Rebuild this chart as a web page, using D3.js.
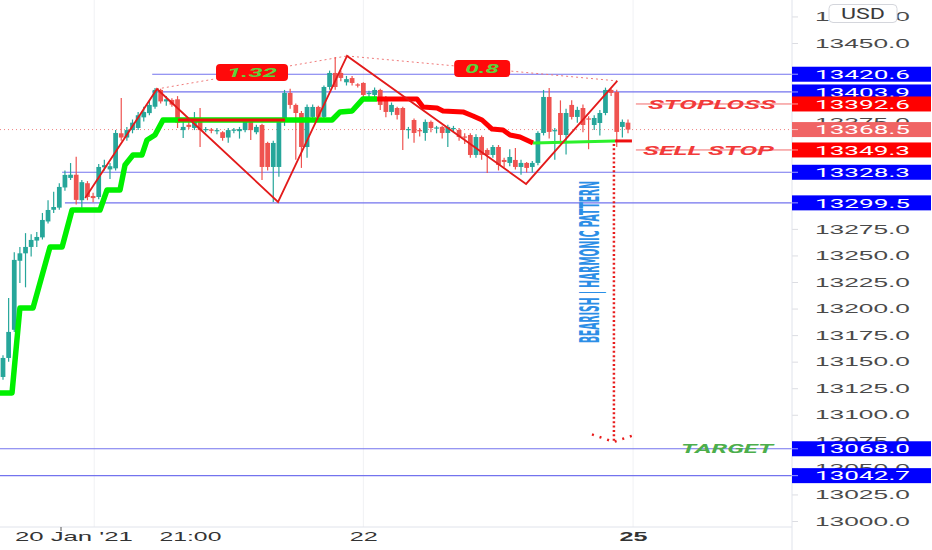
<!DOCTYPE html>
<html>
<head>
<meta charset="utf-8">
<script src="https://cdn.jsdelivr.net/npm/d3@7"></script>
<style>
  body { margin: 0; background: #fff; }
  svg { display: block; font-family: Roboto, "Liberation Sans", sans-serif; }
</style>
</head>
<body>
<div id="canvas"></div>
<script>
width = 932;
height = 550;
axisLeft = 792;
timeAxisY = 527;

// candles, 30 min bars (o / h / l / c)
var opens = [13135.6,13153.5,13180,13245,13252,13258,13264,13267,13282,13293,13295,13314,13323,13326,13302,13318,13306,13305,13333,13331,
  13332,13365,13361,13368,13370,13380,13384,13390,13405.8,13395,13396.4,13397,13368,13373,13370,13379.4,13368,13368.5,13367,13366,
  13361,13368,13367,13368,13375.7,13366,13372.8,13355.9,13333.3,13333.3,13375.7,13403,13391.7,13384.1,13352.1,13380.4,13389.8,13380.4,13408.6,13421.8,
  13421.8,13413,13417,13411,13412.4,13402,13401.1,13405.8,13398.3,13385.1,13388.8,13388.8,13368,13377.5,13368,13365.3,13375.7,13370,13371,13365.3,
  13369,13368.1,13362,13363.4,13344.6,13361.5,13349.3,13344.6,13352.1,13339.9,13337.1,13339.9,13333.3,13337.1,13333.3,13337.1,13365.3,13399.2,13367,13384.1,
  13363.4,13391.7,13380.4,13388.8,13379,13372.8,13374.7,13384.1,13405.8,13403.9,13371,13375];
var highs = [13156,13210,13253,13258,13271,13270,13272,13290,13302,13310,13318,13330,13337,13343,13321,13320,13309,13336,13340,13337,
  13368,13398.3,13371,13378,13385,13390,13396,13407.7,13407,13400,13398,13400,13377.5,13376,13385,13388.8,13371,13370,13370,13367,
  13370,13370,13371,13378,13377,13373,13374,13357,13358,13377,13405.8,13407,13393,13386,13392,13392,13391,13410,13424,13436.8,
  13424,13419,13419,13412,13413,13405,13408,13407,13400,13394,13390,13390,13371,13379,13370,13378,13377,13372,13372,13373,
  13372,13370,13365,13365,13364,13363,13351,13354,13354,13342,13350,13351.2,13340,13338,13339,13367,13405.8,13407.7,13370,13396,
  13388,13396,13390,13392,13381,13382,13387,13408,13407,13406,13378,13378];
var lows = [13133,13150,13178,13224,13220,13249,13258,13265,13280,13290,13293,13311,13321,13298,13295,13302,13300,13303,13330,13322,
  13330,13358,13358,13365,13368,13376,13382,13388,13393,13391,13390,13370,13360.6,13369,13368,13352,13366,13365,13364,13358,
  13356,13365,13360,13366,13358.7,13364,13321,13330,13300.4,13324,13372,13388,13340,13332.4,13342,13378,13378,13378,13406,13406,
  13414,13410,13410,13408,13399,13396,13398,13387,13380,13382,13378,13349.3,13360,13356,13362,13358,13366,13365,13360,13352.1,
  13366,13358,13355,13342,13342,13340,13327.7,13342,13330,13333,13334,13331,13326,13328,13328,13335,13363,13360,13340,13355,
  13345,13378,13375,13366,13350,13368,13363,13382,13400,13352,13361,13365];
var closes = [13153.5,13178,13245.8,13252,13258,13264.6,13267.4,13283.4,13292.8,13295.6,13314.5,13325.8,13326,13302.3,13319,13305,13304,13333.3,13335,13334,
  13365.3,13361,13368,13375,13382,13385,13391.7,13405.8,13395,13397,13392,13375,13371,13371,13379.4,13368,13369,13367.5,13368,13360.6,
  13368,13368.5,13369,13375.7,13368,13371,13333.3,13333.3,13355.9,13375.7,13403,13391.7,13384.1,13352.1,13389.8,13389.8,13380.4,13408.6,13421.8,13408.6,
  13417.1,13416,13412.4,13410,13401.1,13403,13405.8,13391.7,13385.1,13391.7,13382.3,13368.1,13369,13365.3,13367,13375.7,13370,13370.5,13365.3,13371,
  13370,13361.5,13361,13344.6,13361.5,13344.6,13344.6,13352.1,13335.2,13338,13342.7,13333.3,13337.1,13332.4,13337.1,13365.3,13399.2,13366.3,13368,13363.4,
  13384.1,13380.4,13387,13372.8,13378,13379.4,13384.1,13405.8,13403,13366.3,13375.7,13368.5];

// supertrend pieces (bar index, price)
var stGreenIdx = [-0.6,1.6,3.0,5.33,8.35,10.5,12.26,17.23,18.47,20.78,21.67,23.09,24.69,25.58,26.99,28.42,58.44,59.86,61.99,63.94,66.43];
var stGreenVal = [13120.6,13120.6,13200.6,13200.6,13258,13258,13292.8,13292.8,13311.6,13311.6,13335.2,13344.6,13344.6,13358.7,13363.4,13377.5,13377.5,13385.1,13386,13397.3,13397.3];
var stRedIdx = [66.43,73.53,74.6,77.09,78.15,81.7,83.48,85.08,86.86,88.81,90.05,91.83,94.14];
var stRedVal = [13397.3,13397.3,13389.8,13388.8,13386,13385.1,13381.3,13377.5,13369,13368.1,13363.4,13361.5,13355.9];
var stGreen2Idx = [94.14, 108.7];
var stGreen2Val = [13355.9, 13357.8];
var stRed2Idx = [108.7, 111.7];
var stRed2Val = [13357.8, 13357.8];
var stRedFlatIdx = [31.08, 50.09];
var stRedFlatVal = [13377.5, 13377.5];

// harmonic pattern X A B C D E
var patternIdx = [14.6, 27.35, 48.85, 61.1, 92.9, 109.1];
var patternPrice = [13304.1, 13406.7, 13300.4, 13437.8, 13317.3, 13414.3];
var ratioLabels = ["1.32", "0.8"];

// horizontal levels
var blueLevels = [13420.6, 13403.9, 13328.3, 13299.5, 13068.0, 13042.7];
var blueFrom = [26.5, 26.5, 10.5, 11, -2, -2];
var redLevels = [13392.6, 13349.3];
var redLevelNames = ["STOPLOSS", "SELL STOP"];
var lastPrice = 13368.5;
var targetPrice = 13068.0;

// ticks 13425 / 13400 / 13350 / 13325 / 13300 sit fully under the price tags
var priceTicks = [13000, 13025, 13050, 13075, 13100, 13125, 13150, 13175, 13200, 13225, 13250, 13275, 13375, 13450, 13475];
var timeIdx = [12.5, 33.2, 64, 111.9];
var timeLabels = ["20 Jan '21", "21:00", "22", "25"];
var dayGrid = [16.2, 64, 111.9];

function createCanvas(select, width, height, color) {
  return d3.select(select).append("svg")
    .attr("width", width).attr("height", height)
    .style("background-color", color);
}

var canvas = createCanvas("#canvas", width, height, "white");

var x = d3.scaleLinear().domain([0, 111]).range([3, 628]);
var y = d3.scaleLinear().domain([13000, 13450]).range([521, 43]);
var step = x(1) - x(0);

canvas.append("clipPath").attr("id", "plot")
  .append("rect").attr("x", 0).attr("y", 0).attr("width", axisLeft).attr("height", timeAxisY);

var plot = canvas.append("g").attr("clip-path", "url(#plot)");

// day grid
plot.selectAll(".vgrid").data(dayGrid).join("line")
  .attr("x1", function (d) { return x(d); }).attr("x2", function (d) { return x(d); })
  .attr("y1", 0).attr("y2", timeAxisY)
  .attr("stroke", "#f0f1f4").attr("stroke-width", 1);

// blue levels
plot.selectAll(".blue").data(blueLevels).join("line")
  .attr("x1", function (d, i) { return x(blueFrom[i]); }).attr("x2", axisLeft)
  .attr("y1", function (d) { return y(d); }).attr("y2", function (d) { return y(d); })
  .attr("stroke", "#7373ee").attr("stroke-width", 1.2);

// last price dotted
plot.append("line")
  .attr("x1", 0).attr("x2", axisLeft)
  .attr("y1", y(lastPrice)).attr("y2", y(lastPrice))
  .attr("stroke", "#f08585").attr("stroke-width", 1).attr("stroke-dasharray", "1,3");

// ratio dotted legs A-C and C-E
var dotted = d3.line().x(function (d) { return x(d[0]); }).y(function (d) { return y(d[1]); });
[[1, 3], [3, 5]].forEach(function (p) {
  plot.append("path")
    .attr("d", dotted([[patternIdx[p[0]], patternPrice[p[0]]], [patternIdx[p[1]], patternPrice[p[1]]]]))
    .attr("fill", "none").attr("stroke", "#f07a7a").attr("stroke-width", 1).attr("stroke-dasharray", "2,3");
});

// candles
var candles = d3.range(opens.length);
plot.selectAll(".wick").data(candles).join("line")
  .attr("x1", function (i) { return x(i); }).attr("x2", function (i) { return x(i); })
  .attr("y1", function (i) { return y(highs[i]); }).attr("y2", function (i) { return y(lows[i]); })
  .attr("stroke", function (i) { return closes[i] >= opens[i] ? "#26a69a" : "#ef5350"; })
  .attr("stroke-width", 1.2);
plot.selectAll(".body").data(candles).join("rect")
  .attr("x", function (i) { return x(i) - step * 0.42; })
  .attr("width", step * 0.84)
  .attr("y", function (i) { return y(Math.max(opens[i], closes[i])); })
  .attr("height", function (i) { return Math.max(1.2, Math.abs(y(opens[i]) - y(closes[i]))); })
  .attr("fill", function (i) { return closes[i] >= opens[i] ? "#26a69a" : "#ef5350"; });

// supertrend
function stPath(idx, val, color, w) {
  plot.append("path")
    .attr("d", dotted(idx.map(function (d, i) { return [d, val[i]]; })))
    .attr("fill", "none").attr("stroke", color).attr("stroke-width", w)
    .attr("stroke-linejoin", "round");
}
stPath(stGreenIdx, stGreenVal, "#00f000", 5.5);
stPath(stRedFlatIdx, stRedFlatVal, "#f21010", 3);
stPath(stRedIdx, stRedVal, "#ff0000", 5);
stPath(stGreen2Idx, stGreen2Val, "#2cf02c", 3);
stPath(stRed2Idx, stRed2Val, "#ee1111", 3);

// harmonic pattern zigzag
plot.append("path")
  .attr("d", dotted(patternIdx.map(function (d, i) { return [d, patternPrice[i]]; })))
  .attr("fill", "none").attr("stroke", "#e31b1b").attr("stroke-width", 1.8);

// ratio labels at leg midpoints
var ratioW = [72, 56];
[[1, 3], [3, 5]].forEach(function (p, k) {
  var cx = (x(patternIdx[p[0]]) + x(patternIdx[p[1]])) / 2;
  var cy = (y(patternPrice[p[0]]) + y(patternPrice[p[1]])) / 2;
  plot.append("rect")
    .attr("x", cx - ratioW[k] / 2).attr("y", cy - 8.5)
    .attr("width", ratioW[k]).attr("height", 17).attr("rx", 4)
    .attr("fill", "#ff0a0a");
  plot.append("text")
    .attr("x", cx).attr("y", cy).attr("dy", "0.36em")
    .attr("text-anchor", "middle")
    .attr("font-size", 13).attr("font-weight", "bold").attr("font-style", "italic")
    .attr("textLength", k == 0 ? 50 : 34).attr("lengthAdjust", "spacingAndGlyphs")
    .attr("fill", "#5bd43c").text(ratioLabels[k]);
});

// red levels with names
plot.selectAll(".redlvl").data(redLevels).join("line")
  .attr("x1", x(112.4)).attr("x2", axisLeft)
  .attr("y1", function (d) { return y(d); }).attr("y2", function (d) { return y(d); })
  .attr("stroke", "#f26b6b").attr("stroke-width", 1);
plot.selectAll(".redname").data(redLevels).join("text")
  .attr("x", function (d, i) { return i == 0 ? x(125.9) : x(125.3); })
  .attr("y", function (d) { return y(d); }).attr("dy", "0.36em")
  .attr("text-anchor", "middle")
  .attr("font-size", 13).attr("font-weight", "bold").attr("font-style", "italic")
  .attr("textLength", function (d, i) { return i == 0 ? 128 : 131; })
  .attr("lengthAdjust", "spacingAndGlyphs")
  .attr("fill", "#f23a3a")
  .text(function (d, i) { return redLevelNames[i]; });

// target text
plot.append("text")
  .attr("x", x(128.6)).attr("y", y(targetPrice)).attr("dy", "0.36em")
  .attr("text-anchor", "middle")
  .attr("font-size", 13).attr("font-weight", "bold").attr("font-style", "italic")
  .attr("textLength", 92).attr("lengthAdjust", "spacingAndGlyphs")
  .attr("fill", "#4cae4c").text("TARGET");

// dotted arrow down to target
var arrowIdx = 108.5;
plot.append("line")
  .attr("x1", x(arrowIdx)).attr("x2", x(arrowIdx))
  .attr("y1", y(13357.8) + 3).attr("y2", y(13074.5))
  .attr("stroke", "#e81c1c").attr("stroke-width", 2.5).attr("stroke-dasharray", "2,2.4");
plot.append("path")
  .attr("d", dotted([[arrowIdx - 3.9, 13081.5], [arrowIdx, 13074.5], [arrowIdx + 3.9, 13081.5]]))
  .attr("fill", "none").attr("stroke", "#e81c1c").attr("stroke-width", 2.5).attr("stroke-dasharray", "2,6");

// pattern caption, tall condensed letters: small font stretched across the line
var capX = x(104.1), capY = y(13243.8);
canvas.append("text")
  .attr("transform", "translate(" + capX + "," + capY + ") rotate(-90) scale(1,2.25)")
  .attr("text-anchor", "middle").attr("dy", "0.36em")
  .attr("font-family", "'DejaVu Sans Condensed', 'Liberation Sans Narrow', sans-serif")
  .attr("font-weight", "bold")
  .attr("font-size", 12)
  .attr("textLength", 162).attr("lengthAdjust", "spacingAndGlyphs")
  .attr("fill", "#2c8ee6").text("BEARISH | HARMONIC PATTERN");

// price axis
var yAxis = d3.axisRight(y).tickValues(priceTicks)
  .tickFormat(d3.format(".1f")).tickSize(6).tickSizeOuter(0).tickPadding(17);
var yg = canvas.append("g").attr("transform", "translate(" + axisLeft + ",0)").call(yAxis);
yg.select(".domain").remove();
yg.selectAll("line").attr("stroke", "#dcdde2");
yg.selectAll("text")
  .attr("font-size", 13).attr("fill", "#4a4a4a")
  .attr("textLength", 95).attr("lengthAdjust", "spacingAndGlyphs");

canvas.append("line")
  .attr("x1", axisLeft).attr("x2", axisLeft).attr("y1", 0).attr("y2", height)
  .attr("stroke", "#e0e3eb");

// price tags
var tagValues = [13420.6, 13403.9, 13392.6, 13368.5, 13349.3, 13328.3, 13299.5, 13068.0, 13042.7];
var tagColors = ["#0000ff", "#0000ff", "#ff0000", "#f06464", "#ff0000", "#0000ff", "#0000ff", "#0000ff", "#0000ff"];
var tags = canvas.selectAll(".tag").data(tagValues).join("g")
  .attr("transform", function (d) { return "translate(" + axisLeft + "," + y(d) + ")"; });
tags.append("rect")
  .attr("x", 0).attr("y", -7.5).attr("width", 139).attr("height", 15)
  .attr("fill", function (d, i) { return tagColors[i]; });
tags.append("line")
  .attr("x1", 0).attr("x2", 6).attr("y1", 0).attr("y2", 0)
  .attr("stroke", "rgba(255,255,255,0.6)");
tags.append("text")
  .attr("x", 23).attr("dy", "0.36em")
  .attr("font-size", 13).attr("fill", "white")
  .attr("textLength", 95).attr("lengthAdjust", "spacingAndGlyphs")
  .text(function (d) { return d.toFixed(1); });

// currency button
canvas.append("rect")
  .attr("x", 829).attr("y", 4.5).attr("width", 68).attr("height", 18).attr("rx", 4)
  .attr("fill", "white").attr("stroke", "#d4d6dc");
canvas.append("text")
  .attr("x", 863).attr("y", 13.5).attr("dy", "0.36em").attr("text-anchor", "middle")
  .attr("font-size", 14).attr("fill", "#3a3a3a")
  .attr("textLength", 44).attr("lengthAdjust", "spacingAndGlyphs").text("USD");

// time axis
canvas.append("line")
  .attr("x1", 0).attr("x2", axisLeft).attr("y1", timeAxisY).attr("y2", timeAxisY)
  .attr("stroke", "#e0e3eb");
var xAxis = d3.axisBottom(x).tickValues(timeIdx)
  .tickFormat(function (d, i) { return timeLabels[i]; }).tickSize(0).tickPadding(5);
var xg = canvas.append("g").attr("transform", "translate(0," + timeAxisY + ")").call(xAxis);
xg.select(".domain").remove();
var timeLen = [118, 62, 28, 28];
xg.selectAll("text")
  .attr("font-size", 13).attr("fill", "#333")
  .attr("font-weight", function (d, i) { return i == 3 ? "bold" : "normal"; })
  .attr("textLength", function (d, i) { return timeLen[i]; })
  .attr("lengthAdjust", "spacingAndGlyphs");
canvas.append("line")
  .attr("x1", 61).attr("x2", 61).attr("y1", timeAxisY).attr("y2", timeAxisY + 4)
  .attr("stroke", "#555");
</script>
</body>
</html>
